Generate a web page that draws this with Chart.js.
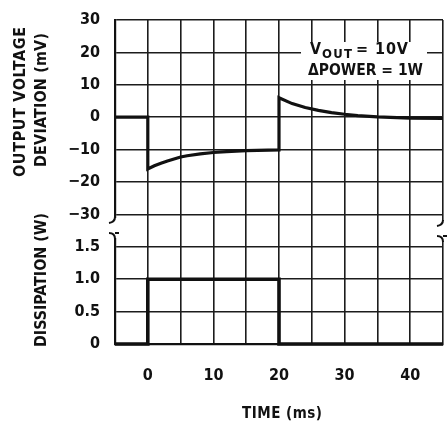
<!DOCTYPE html>
<html>
<head>
<meta charset="utf-8">
<script src="https://cdn.jsdelivr.net/npm/chart.js@4.4.0/dist/chart.umd.min.js"></script>
<style>
    html, body { margin: 0; padding: 0; background: #fff; }
    #wrap { width: 447px; height: 421px; }
</style>
</head>
<body>
<div id="wrap"><canvas id="chart" width="447" height="421"></canvas></div>
<script>
// DATA
const deviationTime = [-5, 0, 0, 1, 2, 3, 4, 5, 6, 8, 10, 12, 15, 20, 20, 22, 24, 26, 28, 30, 32, 35, 40, 45];
const deviationMv = [0, 0, -16, -15, -14.2, -13.5, -12.9, -12.3, -11.9, -11.3, -10.9, -10.6, -10.3, -10.1, 6, 4.2, 3.0, 2.1, 1.4, 0.9, 0.5, 0.1, -0.3, -0.4];

const powerTime = [-5, 0, 0, 20, 20, 45];
const dissipationW = [0, 0, 1, 1, 0, 0];

const voltTicks = [30, 20, 10, 0, -10, -20, -30];
const wattTicks = [1.5, 1.0, 0.5, 0];
const timeTicks = [0, 10, 20, 30, 40];

const FONT = "'DejaVu Sans Condensed', 'Liberation Sans Narrow', sans-serif";
const INK = "#111";

// the lower (W) panel shares the axis: 1 W = 20 units, 0 W sits at -70
const wattToAxis = w => -70 + w * 20;

const yLabels = {};
voltTicks.forEach(v => yLabels[v] = v < 0 ? "\u2212" + Math.abs(v) : String(v));
wattTicks.forEach(w => yLabels[wattToAxis(w)] = w === 0 ? "0" : w.toFixed(1));

function fitText(ctx, text, x, y, width) {
    ctx.letterSpacing = "0px";
    const w = ctx.measureText(text).width;
    if (w > width) {
        ctx.fillText(text, x, y, width);
        return;
    }
    ctx.letterSpacing = ((width - w) / Math.max(1, text.length - 1)) + "px";
    ctx.fillText(text, x, y);
    ctx.letterSpacing = "0px";
}

// gap in a vertical border with hooked ends
function breakMark(ctx, x, y1, y2) {
    ctx.fillStyle = "#fff";
    ctx.fillRect(x - 3, y1 - 4, 6, y2 - y1 + 8);
    ctx.strokeStyle = INK;
    ctx.lineWidth = 2;
    ctx.beginPath();
    ctx.moveTo(x, y1 - 5);
    ctx.quadraticCurveTo(x, y1, x - 6, y1 + 1);
    ctx.moveTo(x - 6, y2 - 1);
    ctx.quadraticCurveTo(x, y2 - 1, x, y2 + 5);
    ctx.moveTo(x, y2 - 1);
    ctx.lineTo(x + 4, y2 - 1);
    ctx.stroke();
}

const decorations = {
    id: "decorations",
    beforeDraw(chart) {
        const ctx = chart.ctx;
        ctx.save();
        ctx.fillStyle = "#fff";
        ctx.fillRect(0, 0, chart.width, chart.height);
        ctx.restore();
    },
    afterDraw(chart) {
        const ctx = chart.ctx;
        const { left, right } = chart.chartArea;
        ctx.save();

        // axis breaks
        breakMark(ctx, left, 222, 234);
        breakMark(ctx, right, 225, 237);

        // annotation
        ctx.fillStyle = "#fff";
        ctx.fillRect(301, 42, 126, 38);
        ctx.fillStyle = INK;
        ctx.textAlign = "left";
        ctx.textBaseline = "alphabetic";
        ctx.font = "bold 16px " + FONT;
        fitText(ctx, "V", 310, 54, 11);
        ctx.font = "bold 13px " + FONT;
        fitText(ctx, "OUT", 322, 58, 30);
        ctx.font = "bold 16px " + FONT;
        fitText(ctx, "= 10V", 356, 54, 52);
        fitText(ctx, "\u0394POWER = 1W", 308, 75, 115);

        // y titles
        ctx.font = "bold 16px " + FONT;
        ctx.textBaseline = "middle";
        const vertical = (text, cx, y1, y2) => {
            ctx.save();
            ctx.translate(cx, (y1 + y2) / 2);
            ctx.rotate(-Math.PI / 2);
            fitText(ctx, text, -(y2 - y1) / 2, 0, y2 - y1);
            ctx.restore();
        };
        vertical("OUTPUT VOLTAGE", 21, 27, 177);
        vertical("DEVIATION (mV)", 42, 33, 167);
        vertical("DISSIPATION (W)", 42, 213, 347);

        // x title
        ctx.font = "bold 15px " + FONT;
        ctx.textBaseline = "alphabetic";
        fitText(ctx, "TIME (ms)", 242, 418, 80);

        ctx.restore();
    }
};

new Chart(document.getElementById("chart"), {
    type: "line",
    data: {
        datasets: [
            {
                data: deviationTime.map((t, i) => ({ x: t, y: deviationMv[i] })),
                borderColor: INK,
                borderWidth: 3.2,
                pointRadius: 0,
                tension: 0,
                clip: false
            },
            {
                data: powerTime.map((t, i) => ({ x: t, y: wattToAxis(dissipationW[i]) })),
                borderColor: INK,
                borderWidth: 3.6,
                pointRadius: 0,
                tension: 0,
                clip: false
            }
        ]
    },
    options: {
        responsive: false,
        animation: false,
        devicePixelRatio: 1,
        layout: { padding: { top: 20, right: 4, left: 0, bottom: 0 } },
        plugins: { legend: { display: false }, tooltip: { enabled: false } },
        scales: {
            x: {
                type: "linear",
                min: -5,
                max: 45,
                afterBuildTicks: scale => {
                    const ticks = [];
                    for (let v = -5; v <= 45; v += 5) ticks.push({ value: v });
                    scale.ticks = ticks;
                },
                afterFit: scale => {
                    scale.height = 77;
                    scale.paddingLeft = 0;
                    scale.paddingRight = 0;
                },
                ticks: {
                    autoSkip: false,
                    maxRotation: 0,
                    padding: 22,
                    color: INK,
                    font: { family: FONT, size: 16, weight: "bold" },
                    callback: v => timeTicks.includes(v) ? String(v) : ""
                },
                grid: { color: "#1c1c1c", lineWidth: 1.6, drawTicks: false },
                border: { color: INK, width: 2.2 }
            },
            y: {
                type: "linear",
                min: -70,
                max: 30,
                afterBuildTicks: scale => {
                    scale.ticks = Object.keys(yLabels).map(Number)
                        .sort((a, b) => a - b)
                        .map(v => ({ value: v }));
                },
                afterFit: scale => {
                    scale.width = 115;
                    scale.paddingTop = 0;
                    scale.paddingBottom = 0;
                },
                ticks: {
                    autoSkip: false,
                    padding: 15,
                    color: INK,
                    font: { family: FONT, size: 16, weight: "bold" },
                    callback: v => yLabels[v] ?? ""
                },
                grid: { color: "#1c1c1c", lineWidth: 1.6, drawTicks: false },
                border: { color: INK, width: 2.2 }
            }
        }
    },
    plugins: [decorations]
});
</script>
</body>
</html>
